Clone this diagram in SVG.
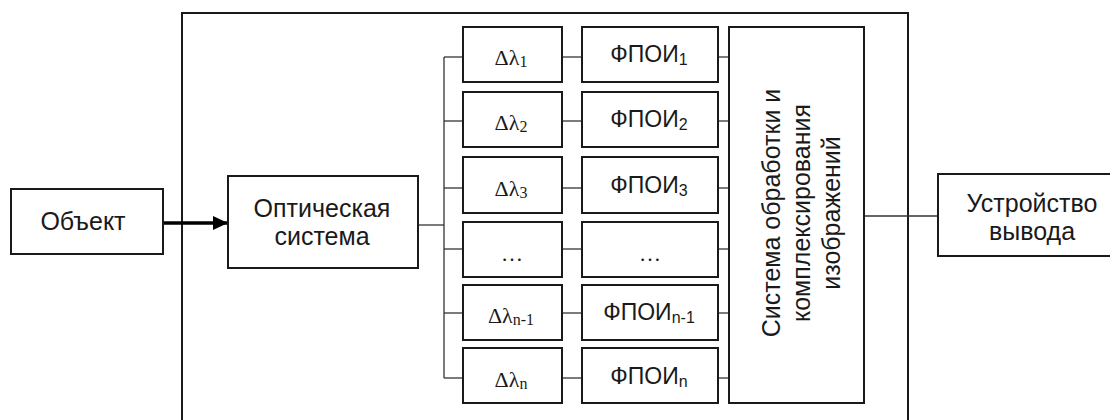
<svg xmlns="http://www.w3.org/2000/svg" width="1110" height="420" viewBox="0 0 1110 420">
<style>
.box{fill:#fff;stroke:#1a1a1a;stroke-width:2}
.frame{fill:none;stroke:#1a1a1a;stroke-width:2}
.con{fill:none;stroke:#333;stroke-width:1.3}
.sans{font-family:"Liberation Sans",Arial,sans-serif;font-size:25px;fill:#1a1a1a;text-anchor:middle}
.fp{font-family:"Liberation Sans",Arial,sans-serif;font-size:23px;fill:#1a1a1a;text-anchor:middle}
.dl{font-family:"Liberation Serif","Times New Roman",serif;font-size:22px;fill:#1a1a1a;text-anchor:middle}
.sub{font-size:16px}
</style>
<defs>
<marker id="ah" markerWidth="15" markerHeight="14" refX="15" refY="7" orient="auto" markerUnits="userSpaceOnUse">
<path d="M0,0 L15,7 L0,14 Z" fill="#000"/>
</marker>
</defs>
<rect class="frame" x="182" y="13" width="726" height="420"/>
<g id="connectors">
<line x1="163" y1="223" x2="228" y2="223" stroke="#000" stroke-width="3.5" marker-end="url(#ah)"/>
<polyline class="con" points="418,225 444,225"/>
<line class="con" x1="444" y1="57" x2="444" y2="378"/>
<line class="con" x1="444" y1="57" x2="463" y2="57"/>
<line class="con" x1="444" y1="121" x2="463" y2="121"/>
<line class="con" x1="444" y1="188" x2="463" y2="188"/>
<line class="con" x1="444" y1="249" x2="463" y2="249"/>
<line class="con" x1="444" y1="313" x2="463" y2="313"/>
<line class="con" x1="444" y1="378" x2="463" y2="378"/>
<line class="con" x1="562" y1="57" x2="582" y2="57"/>
<line class="con" x1="562" y1="121" x2="582" y2="121"/>
<line class="con" x1="562" y1="188" x2="582" y2="188"/>
<line class="con" x1="562" y1="249" x2="582" y2="249"/>
<line class="con" x1="562" y1="313" x2="582" y2="313"/>
<line class="con" x1="562" y1="378" x2="582" y2="378"/>
<line class="con" x1="718" y1="57" x2="729" y2="57"/>
<line class="con" x1="718" y1="121" x2="729" y2="121"/>
<line class="con" x1="718" y1="188" x2="729" y2="188"/>
<line class="con" x1="718" y1="249" x2="729" y2="249"/>
<line class="con" x1="718" y1="313" x2="729" y2="313"/>
<line class="con" x1="718" y1="378" x2="729" y2="378"/>
<line class="con" x1="864" y1="216" x2="938" y2="216"/>
</g>
<g id="object">
<rect class="box" x="11" y="189" width="152" height="65"/>
<text class="sans" x="83" y="230">Объект</text>
</g>
<g id="optical">
<rect class="box" x="228" y="176" width="190" height="92"/>
<text class="sans" x="322" y="217">Оптическая</text>
<text class="sans" x="322" y="245">система</text>
</g>
<g id="dl1"><rect class="box" x="463" y="27" width="99" height="55"/><text class="dl" x="511" y="65">Δλ<tspan class="sub" dy="2">1</tspan></text></g>
<g id="dl2"><rect class="box" x="463" y="92" width="99" height="55"/><text class="dl" x="511" y="130">Δλ<tspan class="sub" dy="2">2</tspan></text></g>
<g id="dl3"><rect class="box" x="463" y="157" width="99" height="56"/><text class="dl" x="511" y="196">Δλ<tspan class="sub" dy="2">3</tspan></text></g>
<g id="dl4"><rect class="box" x="463" y="222" width="99" height="55"/><text class="dl" x="512" y="261">…</text></g>
<g id="dl5"><rect class="box" x="463" y="285" width="99" height="55"/><text class="dl" x="511" y="323">Δλ<tspan class="sub" dy="2">n-1</tspan></text></g>
<g id="dl6"><rect class="box" x="463" y="348" width="99" height="55"/><text class="dl" x="511" y="387">Δλ<tspan class="sub" dy="2">n</tspan></text></g>
<g id="fp1"><rect class="box" x="582" y="27" width="136" height="55"/><text class="fp" x="649" y="62">ФПОИ<tspan class="sub" dy="3">1</tspan></text></g>
<g id="fp2"><rect class="box" x="582" y="92" width="136" height="55"/><text class="fp" x="649" y="127">ФПОИ<tspan class="sub" dy="3">2</tspan></text></g>
<g id="fp3"><rect class="box" x="582" y="157" width="136" height="56"/><text class="fp" x="649" y="193">ФПОИ<tspan class="sub" dy="3">3</tspan></text></g>
<g id="fp4"><rect class="box" x="582" y="222" width="136" height="55"/><text class="dl" x="650" y="261">…</text></g>
<g id="fp5"><rect class="box" x="582" y="285" width="136" height="55"/><text class="fp" x="649" y="320">ФПОИ<tspan class="sub" dy="3">n-1</tspan></text></g>
<g id="fp6"><rect class="box" x="582" y="348" width="136" height="55"/><text class="fp" x="649" y="384">ФПОИ<tspan class="sub" dy="3">n</tspan></text></g>
<g id="processing">
<rect class="box" x="729" y="27" width="135" height="376"/>
<text class="sans" transform="translate(802,213) rotate(-90)"><tspan x="0" y="-22">Система обработки и</tspan><tspan x="0" y="8">комплексирования</tspan><tspan x="0" y="38">изображений</tspan></text>
</g>
<g id="output">
<rect class="box" x="938" y="174" width="190" height="82"/>
<text class="sans" x="1032" y="212">Устройство</text>
<text class="sans" x="1032" y="240">вывода</text>
</g>
</svg>
